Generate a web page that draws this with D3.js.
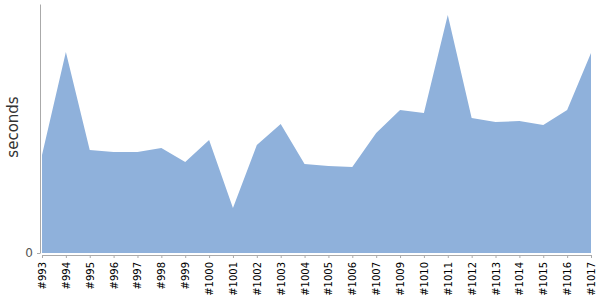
<!DOCTYPE html>
<html lang="en">
<head>
  <meta charset="utf-8">
  <script src="https://d3js.org/d3.v7.min.js"></script>
  <style>
    body { margin: 0; background: #fff; }
    .axis path, .axis line { stroke: #aaa; }
    .xaxis text { font-family: "DejaVu Sans", sans-serif; font-size: 10px; fill: #000; }
    .yaxis text { font-family: "DejaVu Sans", sans-serif; font-size: 12px; fill: #555; }
    .ylabel { font-family: "DejaVu Sans", sans-serif; font-size: 15px; fill: #333; }
  </style>
</head>
<body>
<script>
  // builds and their durations
  var builds = ["#993","#994","#995","#996","#997","#998","#999","#1000","#1001","#1002",
                "#1003","#1004","#1005","#1006","#1007","#1009","#1010","#1011","#1012",
                "#1013","#1014","#1015","#1016","#1017"];
  var seconds = [98, 201, 103, 101, 101, 105, 91, 113, 45, 108,
                 129, 89, 87, 86, 120, 143, 140, 238, 135,
                 131, 132, 128, 143, 200];
  var yTicks = [0];

  var width = 600, height = 300;

  var svg = d3.select("body").append("svg")
    .attr("width", width)
    .attr("height", height);

  var x = d3.scalePoint()
    .domain(builds)
    .range([42, 591]);

  var y = d3.scaleLinear()
    .domain([0, 249])
    .range([253, 4]);

  var area = d3.area()
    .x(function(d, i) { return x(builds[i]); })
    .y0(y(0))
    .y1(function(d) { return y(d); });

  svg.append("path")
    .datum(seconds)
    .attr("fill", "#8fb1db")
    .attr("d", area);

  // y axis
  svg.append("g")
    .attr("class", "axis yaxis")
    .attr("transform", "translate(40,0)")
    .call(d3.axisLeft(y).tickValues(yTicks).tickSize(3).tickSizeOuter(0).tickPadding(4));

  // x axis
  var gx = svg.append("g")
    .attr("class", "axis xaxis")
    .attr("transform", "translate(0,255)")
    .call(d3.axisBottom(x).tickSize(3).tickSizeOuter(0));

  gx.selectAll("text")
    .attr("text-anchor", "end")
    .attr("transform", "rotate(-90)")
    .attr("x", -7)
    .attr("y", 0)
    .attr("dy", "0.35em");

  svg.append("text")
    .attr("class", "ylabel")
    .attr("transform", "translate(18,127) rotate(-90)")
    .attr("text-anchor", "middle")
    .text("seconds");
</script>
</body>
</html>
